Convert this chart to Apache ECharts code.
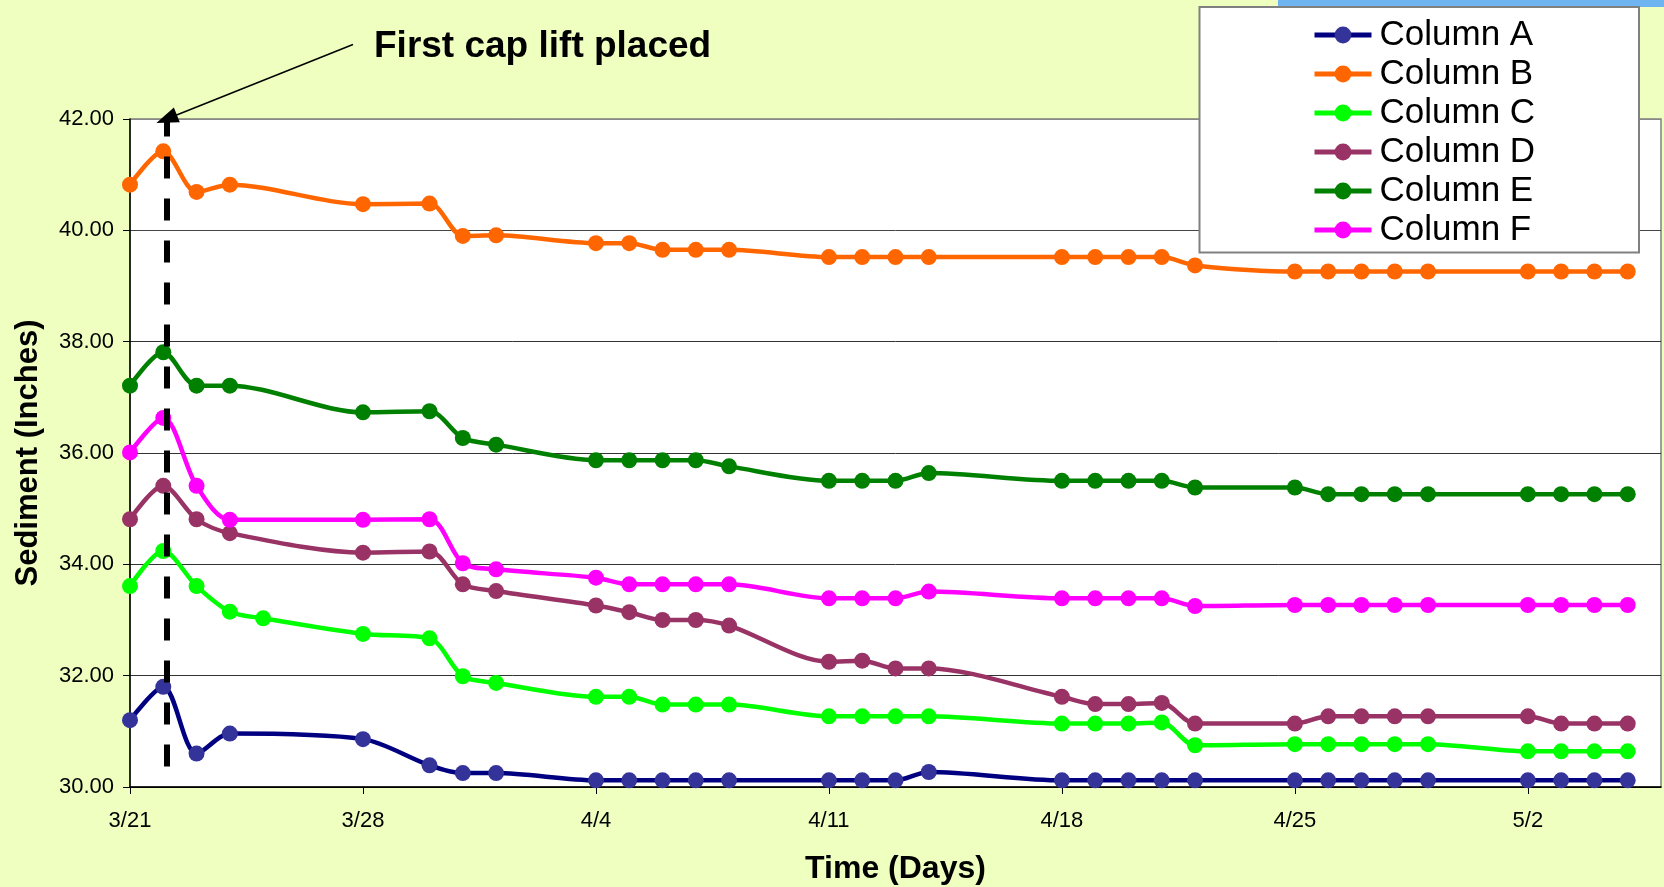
<!DOCTYPE html>
<html><head><meta charset="utf-8">
<script src="https://cdn.jsdelivr.net/npm/echarts@6/dist/echarts.min.js"></script>
<style>html,body{margin:0;padding:0;background:#EEFFC0}#c{width:1664px;height:887px}</style>
</head><body><div id="c"></div>
<script>
// ---- data ----
const dates = ['3/21','3/22','3/23','3/24','3/25','3/28','3/30','3/31','4/1','4/4','4/5','4/6','4/7','4/8',
  '4/11','4/12','4/13','4/14','4/18','4/19','4/20','4/21','4/22','4/25','4/26','4/27','4/28','4/29','5/2','5/3','5/4','5/5'];
const tickLabels = ['3/21','3/28','4/4','4/11','4/18','4/25','5/2'];
const axisEnd = '5/6';
const seriesNames = ['Column A','Column B','Column C','Column D','Column E','Column F'];
const columnA = [31.20,31.80,30.60,30.96,null,30.86,30.39,30.25,30.25,30.12,30.12,30.12,30.12,30.12,
  30.12,30.12,30.12,30.27,30.12,30.12,30.12,30.12,30.12,30.12,30.12,30.12,30.12,30.12,30.12,30.12,30.12,30.12];
const columnB = [40.82,41.42,40.69,40.82,null,40.47,40.48,39.90,39.91,39.77,39.77,39.65,39.65,39.65,
  39.52,39.52,39.52,39.52,39.52,39.52,39.52,39.52,39.37,39.26,39.26,39.26,39.26,39.26,39.26,39.26,39.26,39.26];
const columnC = [33.61,34.24,33.61,33.15,33.03,32.75,32.67,31.99,31.87,31.62,31.62,31.48,31.48,31.48,
  31.27,31.27,31.27,31.27,31.14,31.14,31.14,31.16,30.75,30.77,30.77,30.77,30.77,30.77,30.64,30.64,30.64,30.64];
const columnD = [34.81,35.41,34.81,34.56,null,34.21,34.23,33.64,33.52,33.26,33.14,33.00,33.00,32.90,
  32.25,32.27,32.13,32.13,31.62,31.49,31.49,31.51,31.14,31.14,31.27,31.27,31.27,31.27,31.27,31.14,31.14,31.14];
const columnE = [37.21,37.81,37.21,37.21,null,36.73,36.75,36.27,36.15,35.87,35.87,35.87,35.87,35.76,
  35.50,35.50,35.50,35.64,35.50,35.50,35.50,35.50,35.38,35.38,35.26,35.26,35.26,35.26,35.26,35.26,35.26,35.26];
const columnF = [36.01,36.63,35.41,34.80,null,34.80,34.81,34.02,33.91,33.76,33.64,33.64,33.64,33.64,
  33.39,33.39,33.39,33.51,33.39,33.39,33.39,33.39,33.25,33.27,33.27,33.27,33.27,33.27,33.27,33.27,33.27,33.27];
const yTicks = [30,32,34,36,38,40,42];
const capLiftDay = 1.1;          // "First cap lift placed" marker (days after 3/21)
const capLineBottom = 30.37;
const annotationText = 'First cap lift placed';

// ---- helpers ----
const BASE = Date.UTC(2001, 2, 21);
function dayOf(s){ const p = s.split('/').map(Number); return Math.round((Date.UTC(2001, p[0]-1, p[1]) - BASE)/86400000); }
function labelOf(v){ const d = new Date(BASE + v*86400000); return (d.getUTCMonth()+1) + '/' + d.getUTCDate(); }
const tickDays = tickLabels.map(dayOf);
const FONT = 'Liberation Sans, Arial, sans-serif';

const lineColors = ['#000080','#FF6600','#00FF00','#993366','#008000','#FF00FF'];
const markerColors = ['#333399','#FF6600','#00FF00','#993366','#008000','#FF00FF'];
const allValues = [columnA,columnB,columnC,columnD,columnE,columnF];

const series = allValues.map((vals, k) => ({
  name: seriesNames[k], type: 'line', smooth: 0.3, clip: false,
  symbol: 'circle', symbolSize: 16, showSymbol: true,
  lineStyle: { color: lineColors[k], width: 4.5 },
  itemStyle: { color: markerColors[k] },
  emphasis: { disabled: true },
  data: dates.map((d, i) => vals[i] == null ? null : [dayOf(d), vals[i]]).filter(x => x),
  z: 2
}));
series[0].markLine = {
  silent: true, symbol: ['none','none'], label: { show: false },
  lineStyle: { color: '#000', width: 6, type: [22, 20] },
  data: [[ { coord: [capLiftDay, capLineBottom] }, { coord: [capLiftDay, yTicks[yTicks.length-1]] } ]],
  animation: false, z: 10
};
series[1].markLine = {
  silent: true, symbol: ['none','triangle'], symbolSize: [16, 22], label: { show: false },
  lineStyle: { color: '#000', width: 1.5, type: 'solid' },
  data: [[ { x: 353, y: 44.5 }, { coord: [capLiftDay, yTicks[yTicks.length-1]] } ]],
  animation: false, z: 10
};

const chart = echarts.init(document.getElementById('c'), null, { renderer: 'canvas' });
chart.setOption({
  animation: false,
  backgroundColor: '#EEFFC0',
  textStyle: { fontFamily: FONT },
  grid: { left: 130, right: 3, top: 119, bottom: 100, outerBoundsMode: 'none', containLabel: false,
          show: true, backgroundColor: '#fff', borderColor: '#808080', borderWidth: 1.5 },
  xAxis: {
    type: 'value', min: 0, max: dayOf(axisEnd), interval: 7,
    name: 'Time (Days)', nameLocation: 'middle', nameGap: 66,
    nameTextStyle: { fontSize: 32, fontWeight: 'bold', color: '#000', fontFamily: FONT },
    axisLine: { show: true, onZero: false, lineStyle: { color: '#000', width: 1.5 } },
    axisTick: { show: true, length: 7, customValues: tickDays, lineStyle: { color: '#000' } },
    axisLabel: { customValues: tickDays, formatter: v => labelOf(v), fontSize: 22, color: '#000', margin: 23, fontFamily: FONT },
    splitLine: { show: false }
  },
  yAxis: {
    type: 'value', min: yTicks[0], max: yTicks[yTicks.length-1], interval: 2,
    name: 'Sediment (Inches)', nameLocation: 'middle', nameGap: 86, nameRotate: 90,
    nameTextStyle: { fontSize: 31, fontWeight: 'bold', color: '#000', fontFamily: FONT },
    axisLine: { show: true, lineStyle: { color: '#000', width: 1.5 } },
    axisTick: { show: true, length: 7, lineStyle: { color: '#000' } },
    axisLabel: { formatter: v => v.toFixed(2), fontSize: 22, color: '#000', margin: 16, fontFamily: FONT },
    splitLine: { show: true, lineStyle: { color: ['#000','#333','#333','#333','#333','#444','#888'], width: 1 } }
  },
  legend: {
    orient: 'vertical', left: 1312, top: 17, padding: 0,
    itemWidth: 57, itemHeight: 21, itemGap: 3,
    data: seriesNames,
    lineStyle: { width: 5 },
    textStyle: { fontSize: 35, lineHeight: 36, color: '#000', fontFamily: FONT, padding: [0,0,0,3] },
    selectedMode: false, z: 6
  },
  graphic: [
    { type: 'rect', z: 1, silent: true, shape: { x: 1278, y: 0, width: 386, height: 7 }, style: { fill: '#6DB4F0' } },
    { type: 'rect', z: 5, silent: true, shape: { x: 1199.5, y: 7, width: 439.5, height: 245.5 }, style: { fill: '#fff', stroke: '#808080', lineWidth: 2 } },
    { type: 'text', z: 6, silent: true, x: 374, y: 47, style: { text: annotationText, font: 'bold 37px ' + FONT, fill: '#000', textAlign: 'left', textVerticalAlign: 'middle' } }
  ],
  series
});
</script></body></html>
